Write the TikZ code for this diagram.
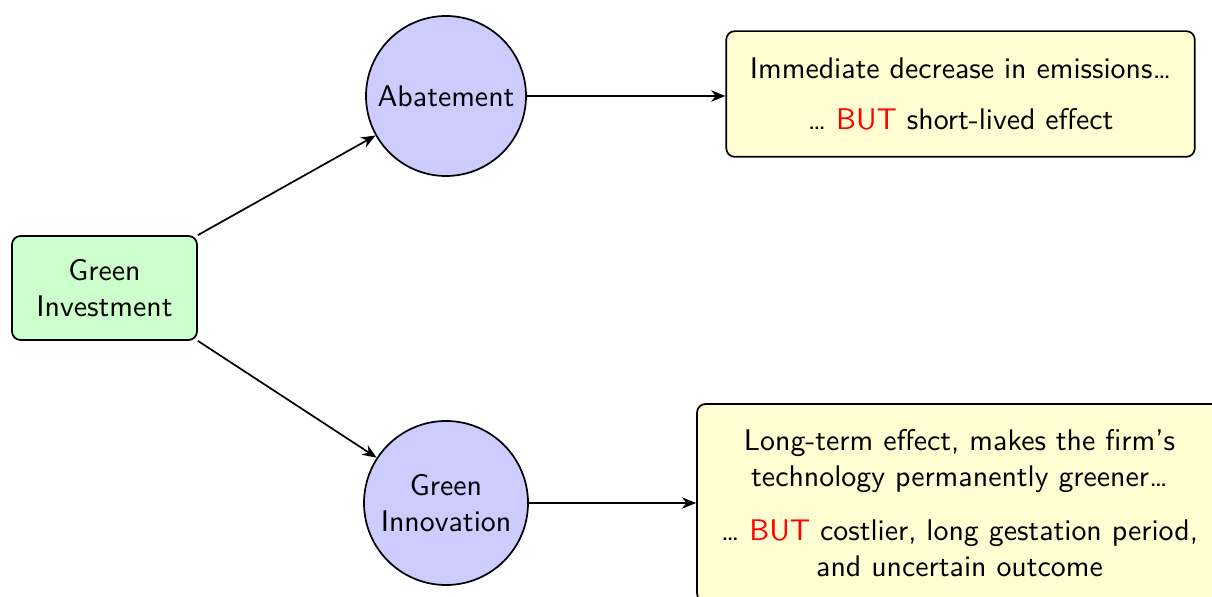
\documentclass[tikz,border=0pt]{standalone}
\usetikzlibrary{arrows.meta}
\begin{document}
\begin{tikzpicture}[x=0.35pt,y=-0.35pt,
  every node/.style={font=\sffamily\fontsize{10.45}{12.5}\selectfont},
  link/.style={-{Stealth[length=5pt,width=4pt]}, line width=0.6pt},
  startbox/.style={draw, line width=0.6pt, rounded corners=3pt, fill=green!20, align=center, minimum width=64.75pt, minimum height=36.4pt, inner sep=0pt},
  effect/.style={draw, line width=0.6pt, circle, fill=blue!20, align=center, inner sep=0pt},
  outcome/.style={draw, line width=0.6pt, rounded corners=3pt, fill=yellow!18, align=center, inner sep=0pt}
]
\useasboundingbox (0,0) rectangle (1212,597);
\clip (0,0) rectangle (1212,597);
\node[startbox] (gi) at (104.5,288) {Green\\Investment};
\node[effect, minimum size=56pt] (ab) at (446,96) {Abatement};
\node[effect, minimum size=57.4pt] (gn) at (446,503) {Green\\Innovation};
\node[outcome, minimum width=164pt, minimum height=44pt] (o1) at (960.5,94)
  {Immediate decrease in emissions\dots\\[5.5pt]\dots\ \textcolor{red}{BUT} short-lived effect};
\node[outcome, minimum width=183.75pt, minimum height=69.3pt] (o2) at (959.5,503)
  {Long-term effect, makes the firm's\\technology permanently greener\dots\\[6.5pt]\dots\ \textcolor{red}{BUT} costlier, long gestation period,\\and uncertain outcome};
\draw[link] (gi.north east) -- (ab);
\draw[link] (gi.south east) -- (gn);
\draw[link] (ab.east) -- (ab.east -| o1.west);
\draw[link] (gn.east) -- (gn.east -| o2.west);
\end{tikzpicture}
\end{document}
